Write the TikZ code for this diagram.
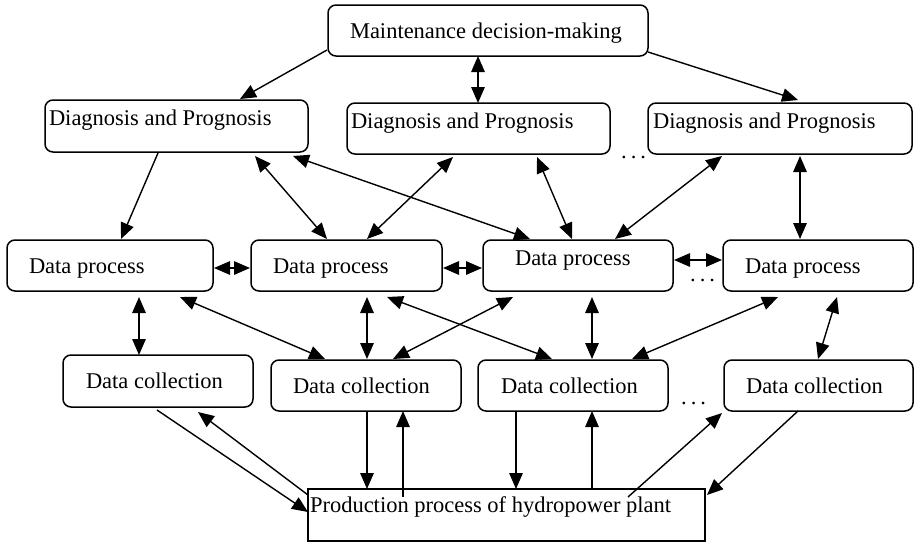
\documentclass[tikz,border=0pt]{standalone}
\usepackage{fontspec}
\setmainfont{Liberation Serif}
\usetikzlibrary{arrows.meta,calc}

\tikzset{
  rbox/.style={draw, line width=1.5pt, rounded corners=8pt, inner sep=0pt, outer sep=0pt},
  sbox/.style={draw, line width=1.5pt, inner sep=0pt, outer sep=0pt},
  lbl/.style={inner sep=0pt, outer sep=0pt, anchor=base west, font=\fontsize{22.5}{27}\selectfont},
  dotsl/.style={inner sep=0pt, anchor=base west, font=\fontsize{22.5}{27}\selectfont},
  tip/.tip={Triangle[length=16pt,width=13.5pt]},
  one/.style={line width=1.4pt, -tip},
  two/.style={line width=1.4pt, tip-tip}
}

\begin{document}
\begin{tikzpicture}[x=1pt,y=-1pt]
\useasboundingbox (0,0) rectangle (915,544);

% boxes
\node[rbox, minimum width=320pt, minimum height=51pt] (top) at (488,30.5) {};
\node[rbox, minimum width=263pt, minimum height=52pt] (dg1) at (176.5,126) {};
\node[rbox, minimum width=263pt, minimum height=51pt] (dg2) at (478.5,128.5) {};
\node[rbox, minimum width=264pt, minimum height=51pt] (dg3) at (780,128.5) {};

\node[rbox, minimum width=206pt, minimum height=51pt] (dp1) at (110,265.5) {};
\node[rbox, minimum width=191pt, minimum height=51pt] (dp2) at (346.5,265.5) {};
\node[rbox, minimum width=190pt, minimum height=51pt] (dp3) at (578,265.5) {};
\node[rbox, minimum width=190pt, minimum height=51pt] (dp4) at (818,265.5) {};

\node[rbox, minimum width=190pt, minimum height=52pt] (dc1) at (158,381) {};
\node[rbox, minimum width=190pt, minimum height=51pt] (dc2) at (366,385.5) {};
\node[rbox, minimum width=190pt, minimum height=51pt] (dc3) at (573,385.5) {};
\node[rbox, minimum width=189pt, minimum height=51pt] (dc4) at (818.5,385.5) {};

\node[sbox, minimum width=397pt, minimum height=52pt] (pp) at (506.5,515) {};

% labels
\node[lbl] (ttop) at (350,38) {Maintenance decision-making};
\node[lbl] (tdg1) at (49,125) {Diagnosis and Prognosis};
\node[lbl] (tdg2) at (351,128) {Diagnosis and Prognosis};
\node[lbl] (tdg3) at (653,128) {Diagnosis and Prognosis};
\node[lbl] (tdp1) at (29,273) {Data process};
\node[lbl] (tdp2) at (273,273) {Data process};
\node[lbl] (tdp3) at (515,265) {Data process};
\node[lbl] (tdp4) at (745,273) {Data process};
\node[lbl] (tdc1) at (86,388) {Data collection};
\node[lbl] (tdc2) at (293,393) {Data collection};
\node[lbl] (tdc3) at (501,393) {Data collection};
\node[lbl] (tdc4) at (746,393) {Data collection};
\node[lbl] (tpp) at (310,512) {Production process of hydropower plant};

% ellipses between the last two columns
\node[dotsl] (e1) at (621,158) {.\hspace{4pt}.\hspace{4pt}.};
\node[dotsl] (e2) at (690,281) {.\hspace{4pt}.\hspace{4pt}.};
\node[dotsl] (e3) at (681,404) {.\hspace{4pt}.\hspace{4pt}.};

% decision level to diagnosis level
\draw[one] ($(top.south west)+(-1,-6)$) -- ($(dg1.north west)+(195,-1)$);
\draw[two] ($(top.south west)+(150,0)$) -- ($(dg2.north west)+(131,0)$);
\draw[one] ($(top.south east)+(0,-4)$) -- ($(dg3.north west)+(150,-3)$);

% diagnosis level to data process level
\draw[one] ($(dg1.south west)+(113,1)$) -- ($(dp1.north west)+(114,-1)$);
\draw[two] ($(dg1.south west)+(210,4)$) -- ($(dp2.north west)+(76,-1)$);
\draw[two] ($(dg1.south west)+(248,4)$) -- ($(dp3.north west)+(47,-1)$);
\draw[two] ($(dg2.south west)+(106,3)$) -- ($(dp2.north west)+(116,-1)$);
\draw[two] ($(dg2.south west)+(190,3)$) -- ($(dp3.north west)+(89,-1)$);
\draw[two] ($(dg3.south west)+(74,2)$) -- ($(dp3.north west)+(132,-1)$);
\draw[two] ($(dg3.south west)+(152,2)$) -- ($(dp4.north west)+(77,-1)$);

% between data process boxes
\draw[two] ($(dp1.east)+(1,2.5)$) -- ($(dp2.west)+(-1,2.5)$);
\draw[two] ($(dp2.east)+(1,2.5)$) -- ($(dp3.west)+(-1,2.5)$);
\draw[two] ($(dp3.east)+(1,-5.5)$) -- ($(dp4.west)+(-1,-5.5)$);

% data process level to data collection level
\draw[two] ($(dp1.south west)+(132,6)$) -- ($(dc1.north west)+(76,0)$);
\draw[two] ($(dp1.south west)+(173,6)$) -- ($(dc2.north west)+(54,-1)$);
\draw[two] ($(dp2.south west)+(116,6)$) -- ($(dc2.north west)+(96,-1)$);
\draw[two] ($(dp2.south west)+(136,6)$) -- ($(dc3.north west)+(74,-1)$);
\draw[two] ($(dp3.south west)+(30,6)$) -- ($(dc2.north west)+(122,-1)$);
\draw[two] ($(dp3.south west)+(109,6)$) -- ($(dc3.north west)+(114,-1)$);
\draw[two] ($(dp4.south west)+(55,6)$) -- ($(dc3.north west)+(154,-1)$);
\draw[two] ($(dp4.south west)+(114,6)$) -- ($(dc4.north west)+(94,-1)$);

% data collection level and the plant
\draw[one] ($(dc1.south west)+(94,3)$) -- ($(pp.north west)+(0,23)$);
\draw[one] ($(pp.north west)+(0,6)$) -- ($(dc1.south west)+(135,5)$);
\draw[one] ($(dc2.south west)+(96,0)$) -- ($(pp.north west)+(59,0)$);
\draw[one] ($(pp.north west)+(95,8)$) -- ($(dc2.south west)+(132,0)$);
\draw[one] ($(dc3.south west)+(38,0)$) -- ($(pp.north west)+(208,0)$);
\draw[one] ($(pp.north west)+(284,0)$) -- ($(dc3.south west)+(114,0)$);
\draw[one] ($(pp.north west)+(320,8)$) -- ($(dc4.south west)+(-2,2)$);
\draw[one] ($(dc4.south west)+(74,0)$) -- ($(pp.north east)+(2,6)$);
\end{tikzpicture}
\end{document}
